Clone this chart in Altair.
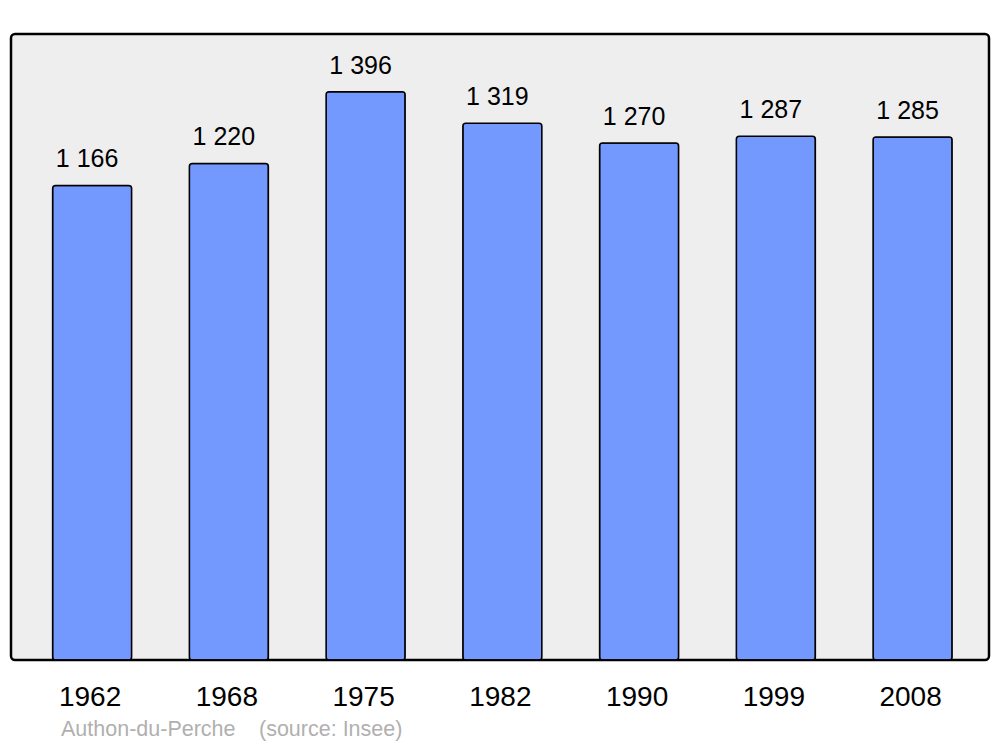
import altair as alt
import pandas as pd

years = ["1962", "1968", "1975", "1982", "1990", "1999", "2008"]
population = [1166, 1220, 1396, 1319, 1270, 1287, 1285]
labels = ["1 166", "1 220", "1 396", "1 319", "1 270", "1 287", "1 285"]
footer_place = "Authon-du-Perche"
footer_source = "(source: Insee)"

df = pd.DataFrame({"year": years, "pop": population, "label": labels})

x = alt.X("year:N", sort=years, title=None,
          scale=alt.Scale(paddingInner=0.422, paddingOuter=0.287, align=0.53),
          axis=alt.Axis(labelAngle=0, labelFontSize=28, labelFont="Liberation Sans",
                        labelColor="black", domain=False, ticks=False, labelPadding=23,
                        labelOffset=-2))
y = alt.Y("pop:Q", title=None, scale=alt.Scale(domain=[0, 1538], nice=False),
          axis=None)

bars = alt.Chart(df).mark_bar(color="#7399ff", stroke="black", strokeWidth=1.5,
                              cornerRadius=3).encode(x=x, y=y)
text = alt.Chart(df).mark_text(fontSize=25, font="Liberation Sans", color="black",
                               baseline="alphabetic", dy=-18, dx=-5).encode(x=x, y=y, text="label:N")

foot1 = alt.Chart(pd.DataFrame({"t": [footer_place]})).mark_text(
    fontSize=21.5, font="Liberation Sans", color="#b0b0b0", align="left", baseline="middle"
).encode(x=alt.value(50), y=alt.value(696), text="t:N")
foot2 = alt.Chart(pd.DataFrame({"t": [footer_source]})).mark_text(
    fontSize=21.5, font="Liberation Sans", color="#b0b0b0", align="left", baseline="middle"
).encode(x=alt.value(248), y=alt.value(696), text="t:N")

chart = alt.layer(bars, text, foot1, foot2).properties(
    width=978, height=626,
    background="white",
    autosize=alt.AutoSizeParams(type="none"),
    padding={"left": 3, "top": 26, "right": 3, "bottom": 86},
).configure_view(fill="#eeeeee", stroke="black", strokeWidth=2.5, cornerRadius=4)

chart.save("out.html", embed_options={"renderer": "svg", "actions": False})
